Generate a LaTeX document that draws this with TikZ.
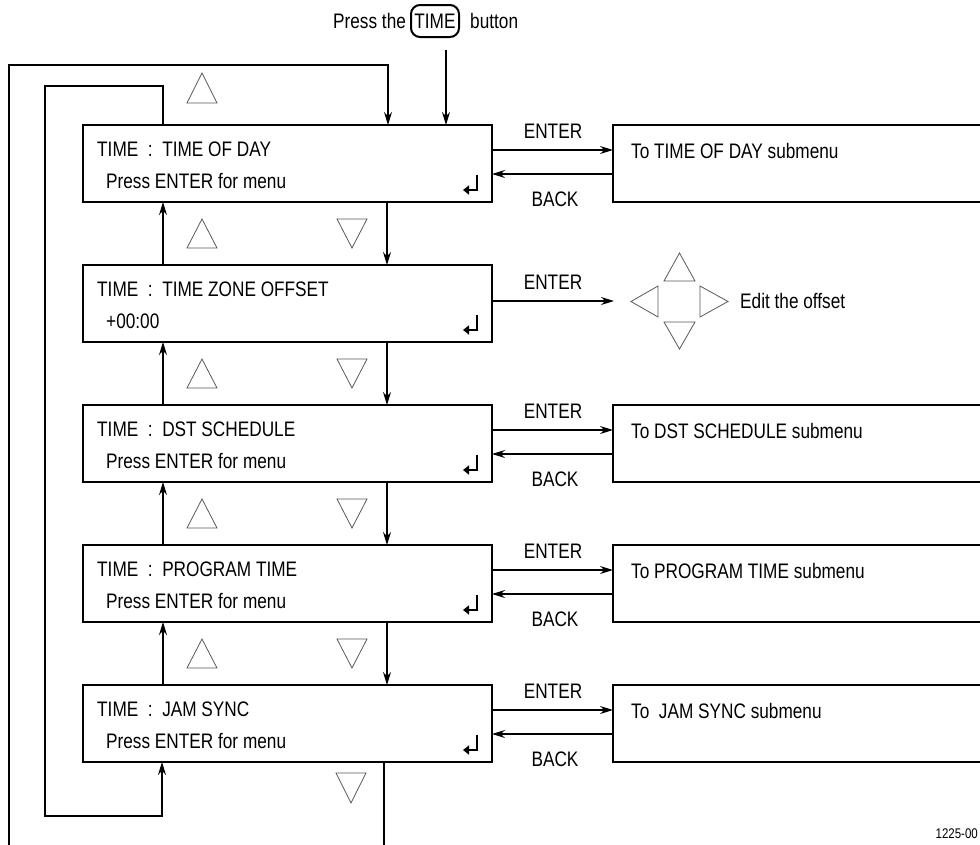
\documentclass[tikz,border=0pt]{standalone}
\usepackage{fontspec}
\setmainfont[FakeStretch=0.82]{Liberation Sans}
\usetikzlibrary{arrows.meta}

\begin{document}
\begin{tikzpicture}[x=1pt, y=-1pt,
  font=\fontsize{21}{25}\selectfont,
  menubox/.style={draw, line width=2.5pt, anchor=north west, minimum width=409pt,
    minimum height=77pt, inner sep=0pt, outer sep=0pt},
  subbox/.style={menubox, minimum width=420pt},
  txt/.style={anchor=base west, inner sep=0pt},
  lbl/.style={inner sep=0pt},
  conn/.style={line width=1.3pt},
  arr/.style={conn, -{Stealth[length=13pt, width=8pt]}},
  tri/.style={draw=black!65, line width=0.8pt, line join=miter},
  retkey/.pic={\draw[line width=2.2pt, -{Triangle[length=6pt, width=9pt]}] (0,0) -- (0,15) -- (-14,15);}
]
\path[use as bounding box] (0,0) rectangle (980,844);
\clip (0,0) rectangle (980,844);

% Press the TIME button
\node[txt] (pr) at (333,28.5) {Press the};
\node[draw, line width=2pt, rounded corners=9pt, minimum width=48pt, minimum height=32pt,
  inner sep=0pt] (btn) at (435,21) {TIME};
\node[txt] (bt) at (470,28.5) {button};
\coordinate (pa) at (446,50);

% Menu boxes
\node[menubox] (t1) at (83,125) {};
\node[menubox] (t2) at (83,265) {};
\node[menubox] (t3) at (83,405) {};
\node[menubox] (t4) at (83,545) {};
\node[menubox] (t5) at (83,685) {};
\node[txt] (t1a) at (97,156) {TIME~~:~~TIME OF DAY};
\node[txt] (t1b) at (106,188) {Press ENTER for menu};
\node[txt] (t2a) at (97,296) {TIME~~:~~TIME ZONE OFFSET};
\node[txt] (t2b) at (106,328) {+00:00};
\node[txt] (t3a) at (97,436) {TIME~~:~~DST SCHEDULE};
\node[txt] (t3b) at (106,468) {Press ENTER for menu};
\node[txt] (t4a) at (97,576) {TIME~~:~~PROGRAM TIME};
\node[txt] (t4b) at (106,608) {Press ENTER for menu};
\node[txt] (t5a) at (97,716) {TIME~~:~~JAM SYNC};
\node[txt] (t5b) at (106,748) {Press ENTER for menu};
\pic at ([xshift=-15pt,yshift=-50pt]t1.north east) {retkey};
\pic at ([xshift=-15pt,yshift=-50pt]t2.north east) {retkey};
\pic at ([xshift=-15pt,yshift=-50pt]t3.north east) {retkey};
\pic at ([xshift=-15pt,yshift=-50pt]t4.north east) {retkey};
\pic at ([xshift=-15pt,yshift=-50pt]t5.north east) {retkey};

% Submenu boxes
\node[subbox] (s1) at (613,125) {};
\node[subbox] (s3) at (613,405) {};
\node[subbox] (s4) at (613,545) {};
\node[subbox] (s5) at (613,685) {};
\node[txt] (s1a) at (631,158) {To TIME OF DAY submenu};
\node[txt] (s3a) at (631,438) {To DST SCHEDULE submenu};
\node[txt] (s4a) at (631,578) {To PROGRAM TIME submenu};
\node[txt] (s5a) at (631,718) {To~~JAM SYNC submenu};

% ENTER and BACK
\draw[arr] ([yshift=-25pt]t1.north east) -- ([yshift=-25pt]s1.north west);
\draw[arr] ([yshift=-49pt]s1.north west) -- ([yshift=-49pt]t1.north east);
\draw[arr] ([yshift=-25pt]t3.north east) -- ([yshift=-25pt]s3.north west);
\draw[arr] ([yshift=-49pt]s3.north west) -- ([yshift=-49pt]t3.north east);
\draw[arr] ([yshift=-25pt]t4.north east) -- ([yshift=-25pt]s4.north west);
\draw[arr] ([yshift=-49pt]s4.north west) -- ([yshift=-49pt]t4.north east);
\draw[arr] ([yshift=-25pt]t5.north east) -- ([yshift=-25pt]s5.north west);
\draw[arr] ([yshift=-49pt]s5.north west) -- ([yshift=-49pt]t5.north east);
\node[lbl] (e1) at (553,131) {ENTER};
\node[lbl] (b1) at (555,199) {BACK};
\node[lbl] (e3) at (553,411) {ENTER};
\node[lbl] (b3) at (555,479) {BACK};
\node[lbl] (e4) at (553,551) {ENTER};
\node[lbl] (b4) at (555,619) {BACK};
\node[lbl] (e5) at (553,691) {ENTER};
\node[lbl] (b5) at (555,759) {BACK};

% Edit the offset
\coordinate (ed) at (614,301);
\draw[arr] ([yshift=-36pt]t2.north east) -- (ed);
\node[lbl] (e2) at (553,282) {ENTER};
\draw[tri] (664,281) -- (679.5,253) -- (695,281) -- cycle;
\draw[tri] (664,322) -- (695,322) -- (679.5,349) -- cycle;
\draw[tri] (658,286) -- (631,301.5) -- (658,317) -- cycle;
\draw[tri] (700,286) -- (728,301.5) -- (700,317) -- cycle;
\node[txt] (edt) at (740,308) {Edit the offset};

% Up and down between boxes
\draw[arr] ([xshift=304pt]t1.south west) -- ([xshift=304pt]t2.north west);
\draw[arr] ([xshift=304pt]t2.south west) -- ([xshift=304pt]t3.north west);
\draw[arr] ([xshift=304pt]t3.south west) -- ([xshift=304pt]t4.north west);
\draw[arr] ([xshift=304pt]t4.south west) -- ([xshift=304pt]t5.north west);
\draw[arr] ([xshift=80pt]t2.north west) -- ([xshift=80pt]t1.south west);
\draw[arr] ([xshift=80pt]t3.north west) -- ([xshift=80pt]t2.south west);
\draw[arr] ([xshift=80pt]t4.north west) -- ([xshift=80pt]t3.south west);
\draw[arr] ([xshift=80pt]t5.north west) -- ([xshift=80pt]t4.south west);
\draw[tri] (187,103) -- (202,73) -- (217,103) -- cycle;
\draw[tri] (187,248) -- (202,219) -- (217,248) -- cycle;
\draw[tri] (187,388) -- (202,359) -- (217,388) -- cycle;
\draw[tri] (187,528) -- (202,499) -- (217,528) -- cycle;
\draw[tri] (187,668) -- (202,639) -- (217,668) -- cycle;
\draw[tri] (337,219) -- (367,219) -- (352,248) -- cycle;
\draw[tri] (337,359) -- (367,359) -- (352,388) -- cycle;
\draw[tri] (337,499) -- (367,499) -- (352,528) -- cycle;
\draw[tri] (337,639) -- (367,639) -- (352,668) -- cycle;
\draw[tri] (336,773) -- (366,773) -- (351,803) -- cycle;

% Loops
\coordinate (outl) at (9,846);
\coordinate (outr) at (384,846);
\draw[arr] (pa) -- ([xshift=363pt]t1.north west);
\draw[arr] (outl) -- (9,65) -| ([xshift=305pt]t1.north west);
\draw[arr] ([xshift=80pt]t1.north west) |- (45,86) -- (45,816) -| ([xshift=79pt]t5.south west);
\draw[conn] ([xshift=301pt]t5.south west) -- (outr);

\node[txt, anchor=base east, font=\fontsize{14}{16}\selectfont] (fig) at (978,838) {1225-00};
\end{tikzpicture}
\end{document}
